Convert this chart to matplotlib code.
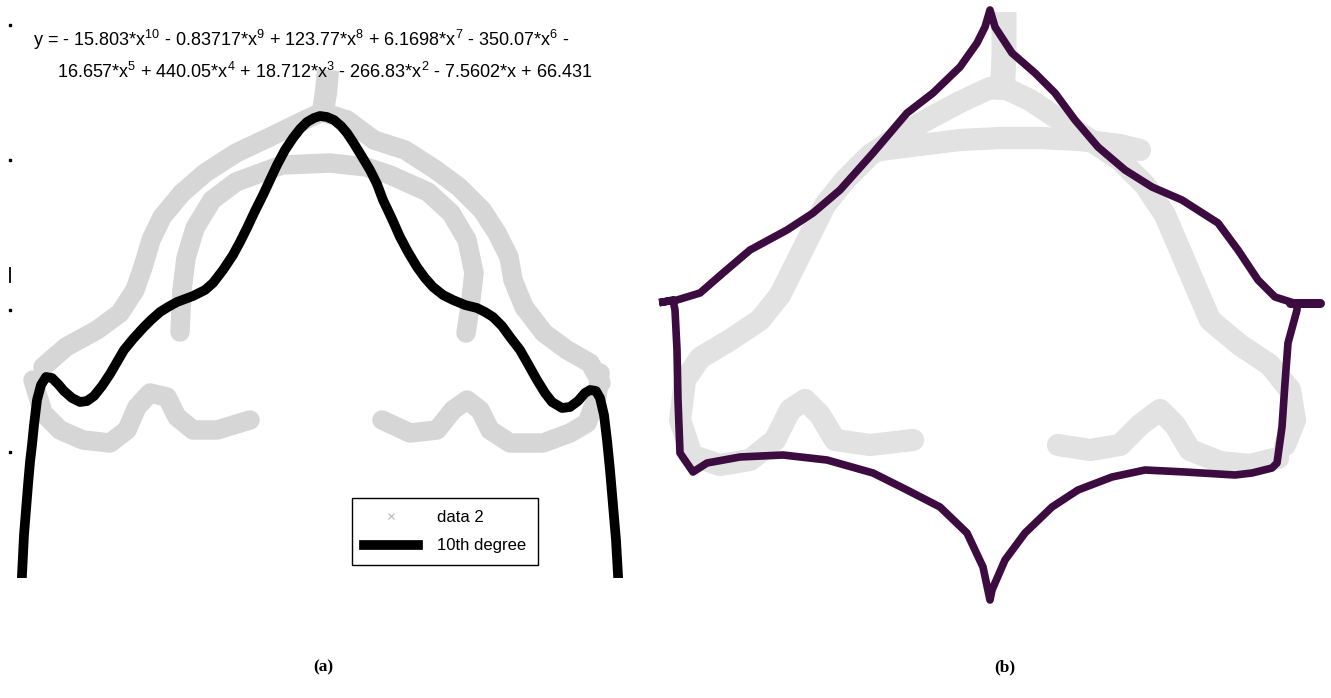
import matplotlib.pyplot as plt
from matplotlib.lines import Line2D

plt.rcParams['mathtext.default'] = 'regular'

# ---- panel (a): values (pixel-like units, y down) ----
fit_x = [22, 23, 24, 26, 28, 30, 32, 34, 37, 41, 46, 52, 58, 64, 72, 80, 87, 94, 102, 110,
         117, 124, 133, 143, 151, 160, 168, 177, 185, 193, 205, 213, 223, 233, 240, 247, 255,
         263, 270, 277, 285, 293, 300, 307, 314, 320, 327, 334, 341, 347, 353, 361, 370, 377,
         383, 392, 400, 408, 417, 425, 433, 443, 453, 465, 477, 485, 493, 502, 510, 520, 528,
         537, 545, 552, 562, 570, 578, 585, 590, 596, 600, 604, 607, 610, 613, 616, 618]
fit_y = [575, 555, 535, 510, 485, 462, 445, 425, 400, 385, 377, 378, 384, 391, 398, 402, 401,
         396, 386, 374, 362, 350, 339, 328, 320, 312, 307, 302, 299, 296, 290, 283, 270, 255,
         242, 228, 211, 195, 180, 165, 150, 138, 129, 122, 118, 116, 117, 120, 126, 133, 142,
         155, 170, 184, 200, 219, 237, 252, 267, 278, 287, 295, 300, 305, 308, 312, 317, 326,
         337, 350, 364, 380, 393, 402, 408, 407, 401, 393, 390, 391, 398, 415, 440, 470, 505,
         540, 575]

spike_a_x = [328, 326, 322]
spike_a_y = [70, 92, 118]
outer_a_x = [43, 66, 97, 120, 135, 143, 151, 162, 182, 205, 236, 270, 305, 322, 347, 374,
             405, 436, 459, 482, 497, 509, 513, 524, 544, 567, 590, 601]
outer_a_y = [367, 347, 330, 313, 290, 267, 240, 217, 193, 173, 153, 137, 120, 112, 120, 140,
             150, 170, 187, 210, 233, 257, 280, 307, 333, 350, 363, 383]
inner_a_x = [180, 182, 186, 195, 212, 236, 282, 330, 366, 390, 428, 451, 467, 474, 470, 466]
inner_a_y = [332, 290, 258, 228, 200, 182, 165, 163, 167, 175, 192, 213, 240, 273, 307, 333]
low_left_a_x = [33, 43, 60, 83, 110, 127, 137, 150, 167, 177, 193, 217, 240, 250]
low_left_a_y = [380, 413, 430, 440, 443, 430, 407, 393, 397, 417, 430, 430, 423, 420]
low_right_a_x = [382, 410, 437, 453, 467, 480, 490, 510, 543, 570, 587, 597, 600]
low_right_a_y = [420, 433, 430, 410, 400, 410, 430, 443, 443, 433, 423, 397, 373]

tick_marks_y = [25, 160, 310, 452]

eq_line1 = (r'y = - 15.803*$x^{10}$ - 0.83717*$x^{9}$ + 123.77*$x^{8}$ + 6.1698*$x^{7}$'
            r' - 350.07*$x^{6}$ -')
eq_line2 = (r'16.657*$x^{5}$ + 440.05*$x^{4}$ + 18.712*$x^{3}$ - 266.83*$x^{2}$'
            r' - 7.5602*x + 66.431')

# ---- panel (b) ----
outline_x = [663, 677, 700, 723, 750, 787, 813, 840, 873, 907, 933, 960, 977, 985, 990,
             995, 1012, 1035, 1055, 1075, 1098, 1125, 1152, 1182, 1218, 1238, 1258, 1275, 1297,
             1297, 1288, 1285, 1282, 1277, 1272, 1252, 1235, 1185, 1145, 1112, 1078, 1052, 1025,
             1005, 992, 990, 983, 967, 940, 907, 873, 827, 783, 740, 707, 693, 680, 678, 677,
             675, 673, 663]
outline_y = [302, 300, 293, 273, 250, 230, 213, 190, 153, 113, 93, 67, 43, 27, 10,
             27, 53, 73, 93, 120, 147, 170, 187, 200, 223, 250, 280, 297, 304,
             310, 343, 383, 427, 463, 468, 473, 475, 472, 470, 477, 490, 507, 533,
             560, 590, 600, 567, 533, 507, 490, 473, 460, 455, 457, 463, 472, 453, 400, 350,
             310, 300, 302]
flare_x = [1290, 1320]
flare_y = [303, 303]

spike_b_x = [1004, 1004, 1002]
spike_b_y = [12, 55, 100]
outer_left_b_x = [990, 960, 930, 900, 870, 845, 825, 810, 795, 780, 760, 730, 700, 685, 680, 690]
outer_left_b_y = [88, 102, 118, 135, 155, 180, 205, 235, 265, 295, 320, 340, 358, 380, 420, 450]
outer_right_b_x = [1005, 1030, 1060, 1090, 1120, 1145, 1165, 1180, 1195, 1210, 1240, 1270, 1290,
                   1295, 1285]
outer_right_b_y = [88, 100, 120, 140, 160, 185, 215, 250, 285, 320, 345, 365, 390, 420, 445]
inner_b_x = [880, 920, 960, 1000, 1040, 1080, 1120, 1140]
inner_b_y = [150, 145, 140, 138, 138, 140, 145, 150]
low_left_b_x = [690, 720, 750, 775, 790, 805, 820, 835, 870, 913]
low_left_b_y = [455, 465, 460, 440, 410, 400, 415, 440, 445, 440]
low_right_b_x = [1058, 1090, 1120, 1140, 1160, 1175, 1190, 1220, 1250, 1278]
low_right_b_y = [445, 450, 445, 425, 410, 425, 450, 462, 465, 458]

W, H = 1331, 698
fig = plt.figure(figsize=(W / 100, H / 100), dpi=100)

ax_a = fig.add_axes([0, 1 - 578 / H, 640 / W, 578 / H])
ax_a.set_xlim(0, 640)
ax_a.set_ylim(578, 0)
ax_a.axis('off')

gray_a = '#d6d6d6'
ax_a.plot(spike_a_x, spike_a_y, color=gray_a, lw=16, solid_capstyle='butt')
for xs, ys in [(outer_a_x, outer_a_y), (inner_a_x, inner_a_y),
               (low_left_a_x, low_left_a_y), (low_right_a_x, low_right_a_y)]:
    ax_a.plot(xs, ys, color=gray_a, lw=14, solid_joinstyle='round', solid_capstyle='round')

ax_a.plot(fit_x, fit_y, color='black', lw=7, solid_joinstyle='round')
ax_a.plot([10] * len(tick_marks_y), tick_marks_y, 's', color='black', ms=1.6, clip_on=False)
ax_a.plot([10, 10], [268, 282], color='black', lw=1.3)

eq_font = ['Liberation Sans Narrow', 'Liberation Sans']
ax_a.text(33, 40, eq_line1, ha='left', va='center', fontsize=13, family=eq_font)
ax_a.text(57, 72, eq_line2, ha='left', va='center', fontsize=13, family=eq_font)

handles = [Line2D([], [], ls='none', marker='x', color='#b8b8b8', ms=4, mew=0.8),
           Line2D([], [], color='black', lw=7)]
leg = ax_a.legend(handles, ['data 2', '10th degree'], loc='lower left',
                  bbox_to_anchor=(352 / 640, 13 / 578), borderaxespad=0, frameon=True,
                  fancybox=False, edgecolor='black', framealpha=1, handlelength=3.25,
                  borderpad=0.7, labelspacing=0.8, handletextpad=1.15,
                  prop={'family': eq_font, 'size': 12})
leg.get_frame().set_linewidth(1.0)

ax_b = fig.add_axes([640 / W, 1 - 620 / H, 691 / W, 620 / H])
ax_b.set_xlim(640, 1331)
ax_b.set_ylim(620, 0)
ax_b.axis('off')

gray_b = '#e2e2e2'
ax_b.plot(spike_b_x, spike_b_y, color=gray_b, lw=18, solid_capstyle='butt')
for xs, ys in [(outer_left_b_x, outer_left_b_y), (outer_right_b_x, outer_right_b_y),
               (inner_b_x, inner_b_y), (low_left_b_x, low_left_b_y),
               (low_right_b_x, low_right_b_y)]:
    ax_b.plot(xs, ys, color=gray_b, lw=16, solid_joinstyle='round', solid_capstyle='round')

purple = '#3c0b3f'
ax_b.plot(outline_x, outline_y, color=purple, lw=5.5, solid_joinstyle='round')
ax_b.plot(flare_x, flare_y, color=purple, lw=6.5, solid_capstyle='round')

fig.text(323 / W, 1 - 667 / H, '(a)', ha='center', va='center', fontsize=12.5,
         fontweight='bold', family='Liberation Serif')
fig.text(1005 / W, 1 - 667 / H, '(b)', ha='center', va='center', fontsize=12.5,
         fontweight='bold', family='Liberation Serif')

fig.savefig('out.png', dpi=100, facecolor='white')
